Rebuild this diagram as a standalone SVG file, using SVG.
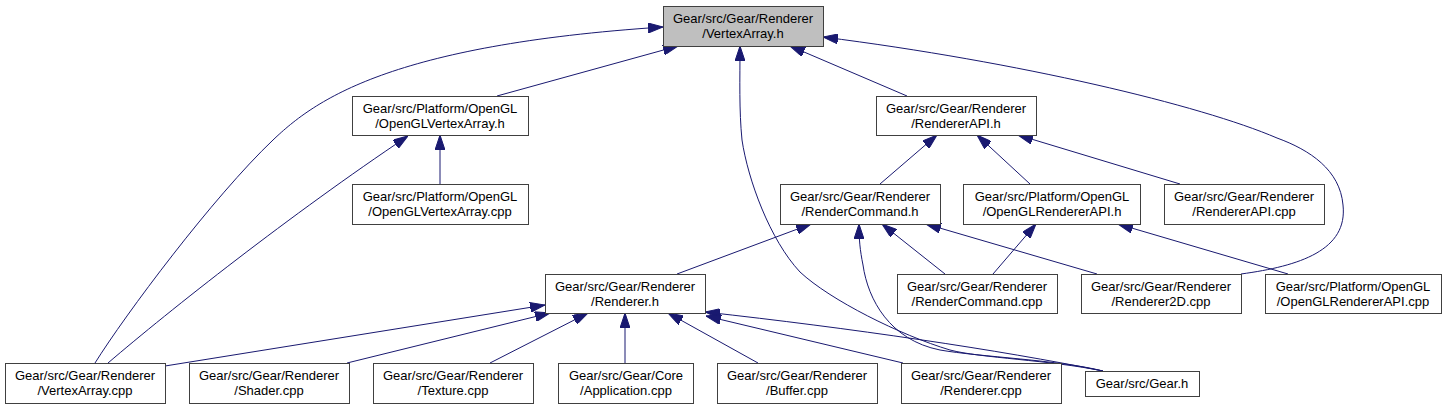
<svg xmlns="http://www.w3.org/2000/svg" width="1447" height="409" viewBox="0 0 1447 409">
<style>
.n rect{fill:#ffffff;stroke:#404040;stroke-width:1}
.n.root rect{fill:#bfbfbf}
.n text{font-family:"Liberation Sans",Arial,sans-serif;font-size:13px;fill:#000;text-anchor:middle}
.e path{fill:none;stroke:#191970;stroke-width:1;marker-end:url(#ah)}
</style>
<defs>
<marker id="ah" viewBox="0 0 15 10" refX="15" refY="5" markerWidth="15" markerHeight="10" markerUnits="userSpaceOnUse" orient="auto">
<path d="M0,0 L15,5 L0,10 z" fill="#191970" stroke="#191970" stroke-width="1"/>
</marker>
</defs>
<rect width="1447" height="409" fill="#ffffff"/>
<g id="edges" class="e">
<path d="M497,96 L678,46"/>
<path d="M95,363 C125,315 213,197 273,140 C315,100 390,45 663,27"/>
<path d="M907,96 L790,46"/>
<path d="M1241,274 C1300,266 1348,250 1343,205 C1340,170 1310,150 1277,138 C1200,105 1020,62 823,37"/>
<path d="M1103,371 C1050,360 980,358 950,350 C900,335 830,300 800,272 C770,240 748,180 742,140 C739,110 740,80 740,46"/>
<path d="M440,184 L440,135"/>
<path d="M108,363 C170,310 290,215 408,136"/>
<path d="M880,184 L937,135"/>
<path d="M1030,184 L977,135"/>
<path d="M1180,184 L1018,135"/>
<path d="M677,274 L811,224"/>
<path d="M945,274 L882,224"/>
<path d="M993,274 L1036,224"/>
<path d="M1097,274 L926,224"/>
<path d="M1288,274 L1118,224"/>
<path d="M1103,371 C1060,360 980,357 940,350 C890,340 868,300 863,265 C860,250 859,240 859,224"/>
<path d="M1103,371 C1000,350 850,328 705,312"/>
<path d="M903,363 L706,316"/>
<path d="M165,366 L545,305"/>
<path d="M347,363 L550,313"/>
<path d="M490,363 L588,313"/>
<path d="M625,363 L625,313"/>
<path d="M758,363 L668,313"/>
</g>
<g id="n0" class="n root"><rect x="663.5" y="6.5" width="160" height="40"/><text x="743" y="23">Gear/src/Gear/Renderer</text><text x="743" y="38">/VertexArray.h</text></g>
<g id="n1" class="n"><rect x="352.5" y="96.5" width="176" height="39"/><text x="440" y="113">Gear/src/Platform/OpenGL</text><text x="440" y="128">/OpenGLVertexArray.h</text></g>
<g id="n2" class="n"><rect x="876.5" y="96.5" width="160" height="39"/><text x="956" y="113">Gear/src/Gear/Renderer</text><text x="956" y="128">/RendererAPI.h</text></g>
<g id="n3" class="n"><rect x="352.5" y="184.5" width="176" height="40"/><text x="440" y="201">Gear/src/Platform/OpenGL</text><text x="440" y="216">/OpenGLVertexArray.cpp</text></g>
<g id="n4" class="n"><rect x="780.5" y="184.5" width="160" height="40"/><text x="860" y="201">Gear/src/Gear/Renderer</text><text x="860" y="216">/RenderCommand.h</text></g>
<g id="n5" class="n"><rect x="963.5" y="184.5" width="177" height="40"/><text x="1052" y="201">Gear/src/Platform/OpenGL</text><text x="1052" y="216">/OpenGLRendererAPI.h</text></g>
<g id="n6" class="n"><rect x="1164.5" y="184.5" width="160" height="40"/><text x="1244" y="201">Gear/src/Gear/Renderer</text><text x="1244" y="216">/RendererAPI.cpp</text></g>
<g id="n7" class="n"><rect x="545.5" y="274.5" width="160" height="39"/><text x="625" y="291">Gear/src/Gear/Renderer</text><text x="625" y="306">/Renderer.h</text></g>
<g id="n8" class="n"><rect x="897.5" y="274.5" width="160" height="39"/><text x="977" y="291">Gear/src/Gear/Renderer</text><text x="977" y="306">/RenderCommand.cpp</text></g>
<g id="n9" class="n"><rect x="1081.5" y="274.5" width="160" height="39"/><text x="1161" y="291">Gear/src/Gear/Renderer</text><text x="1161" y="306">/Renderer2D.cpp</text></g>
<g id="n10" class="n"><rect x="1265.5" y="274.5" width="176" height="39"/><text x="1353" y="291">Gear/src/Platform/OpenGL</text><text x="1353" y="306">/OpenGLRendererAPI.cpp</text></g>
<g id="n11" class="n"><rect x="5.5" y="363.5" width="160" height="40"/><text x="85" y="380">Gear/src/Gear/Renderer</text><text x="85" y="395">/VertexArray.cpp</text></g>
<g id="n12" class="n"><rect x="189.5" y="363.5" width="160" height="40"/><text x="269" y="380">Gear/src/Gear/Renderer</text><text x="269" y="395">/Shader.cpp</text></g>
<g id="n13" class="n"><rect x="373.5" y="363.5" width="160" height="40"/><text x="453" y="380">Gear/src/Gear/Renderer</text><text x="453" y="395">/Texture.cpp</text></g>
<g id="n14" class="n"><rect x="558.5" y="363.5" width="135" height="40"/><text x="626" y="380">Gear/src/Gear/Core</text><text x="626" y="395">/Application.cpp</text></g>
<g id="n15" class="n"><rect x="717.5" y="363.5" width="160" height="40"/><text x="797" y="380">Gear/src/Gear/Renderer</text><text x="797" y="395">/Buffer.cpp</text></g>
<g id="n16" class="n"><rect x="901.5" y="363.5" width="160" height="40"/><text x="981" y="380">Gear/src/Gear/Renderer</text><text x="981" y="395">/Renderer.cpp</text></g>
<g id="n17" class="n"><rect x="1085.5" y="371.5" width="114" height="25"/><text x="1142" y="388">Gear/src/Gear.h</text></g>
</svg>
